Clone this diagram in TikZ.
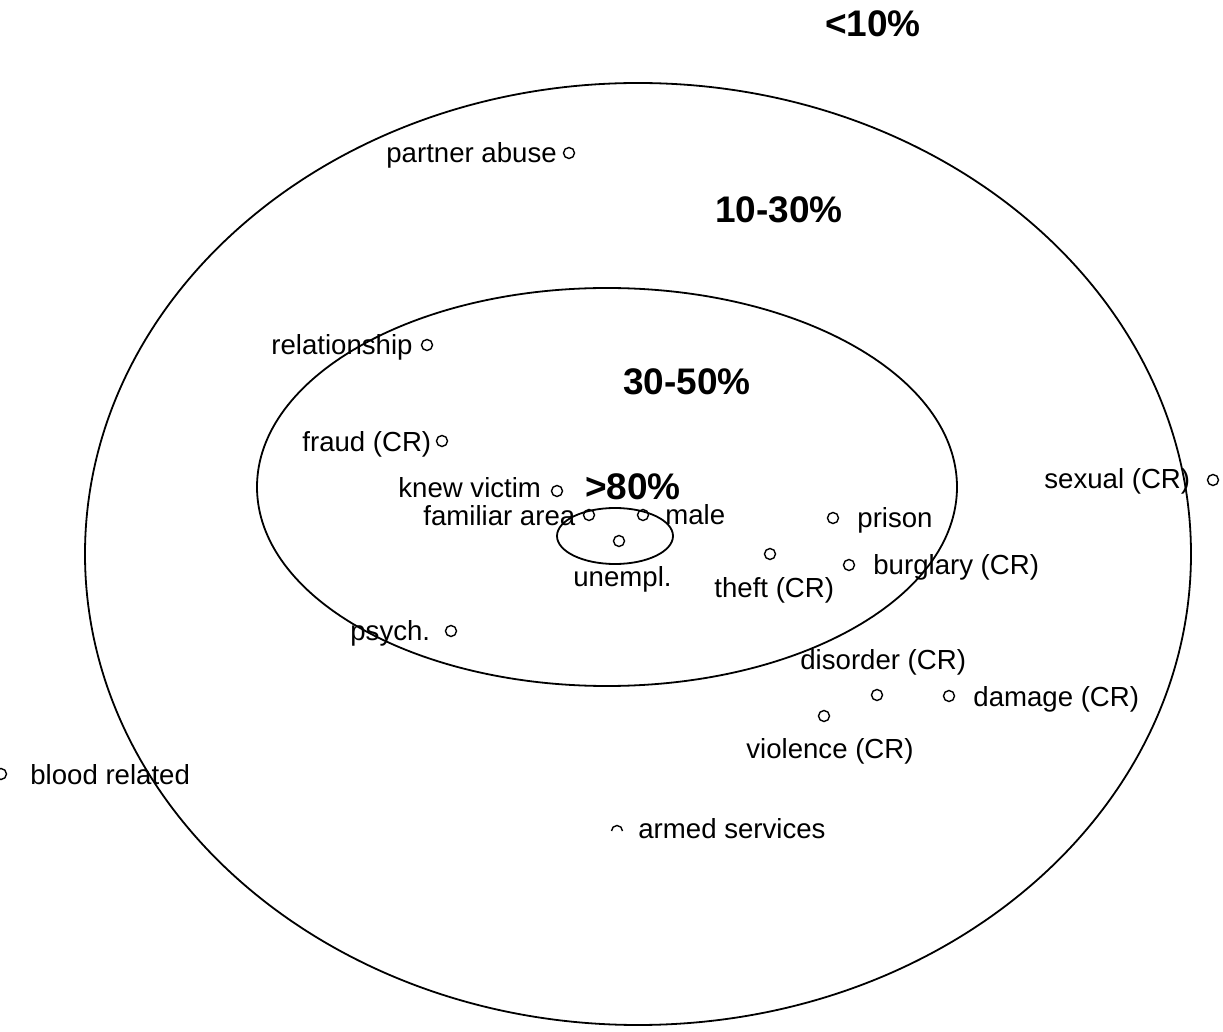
\documentclass[tikz,border=0pt]{standalone}
\usepackage{fontspec}
\setmainfont{Liberation Sans}
\begin{document}
\begin{tikzpicture}[x=0.5pt,y=-0.5pt,
  ring/.style={line width=0.9pt},
  pt/.style={circle,draw,line width=0.7pt,minimum size=5.5pt,inner sep=0pt},
  lab/.style={anchor=base west,inner sep=0pt,font=\fontsize{13.8}{16}\selectfont},
  band/.style={anchor=base,inner sep=0pt,font=\fontsize{18.5}{22}\selectfont\bfseries}]
\useasboundingbox (0,0) rectangle (1223,1032);
\clip (0,0) rectangle (1223,1032);

% concentric bands
\draw[ring] (638,554) ellipse [x radius=553, y radius=471];
\draw[ring] (607,487) ellipse [x radius=350, y radius=199];
\draw[ring] (615,536) ellipse [x radius=58, y radius=28];

% band labels
\node[band] (b10)  at (873,37)  {<10\%};
\node[band] (b30)  at (779,223) {10-30\%};
\node[band] (b50)  at (687,395) {30-50\%};
\node[band] (b80)  at (633,500) {>80\%};

% item markers
\node[pt] (pabuse) at (569,153) {};
\node[pt] (rel)    at (427,345) {};
\node[pt] (fraud)  at (442,441) {};
\node[pt] (knew)   at (557,491) {};
\node[pt] (fam)    at (589,515) {};
\node[pt] (male)   at (643,515) {};
\node[pt] (unemp)  at (619,541) {};
\node[pt] (psych)  at (451,631) {};
\node[pt] (prison) at (833,518) {};
\node[pt] (theft)  at (770,554) {};
\node[pt] (burg)   at (849,565) {};
\node[pt] (disord) at (877,695) {};
\node[pt] (damage) at (949,696) {};
\node[pt] (viol)   at (824,716) {};
\node[pt] (sexual) at (1213,480) {};
\node[pt] (blood)  at (1,774) {};
\coordinate (armed) at (617,831);
\draw[line width=0.7pt] (armed) ++(-5.5,0) arc[start angle=180, end angle=360, radius=5.5];

% item labels
\node[lab] (tpabuse) at (386,163) {partner abuse};
\node[lab] (trel)    at (271,355) {relationship};
\node[lab] (tfraud)  at (302,452) {fraud (CR)};
\node[lab] (tknew)   at (398,498) {knew victim};
\node[lab] (tfam)    at (423,526) {familiar area};
\node[lab] (tmale)   at (665,525) {male};
\node[lab] (tunemp)  at (573,587) {unempl.};
\node[lab] (tpsych)  at (350,641) {psych.};
\node[lab] (tprison) at (857,528) {prison};
\node[lab] (ttheft)  at (714,598) {theft (CR)};
\node[lab] (tburg)   at (873,575) {burglary (CR)};
\node[lab] (tdisord) at (800,669) {disorder (CR)};
\node[lab] (tdamage) at (973,706) {damage (CR)};
\node[lab] (tviol)   at (746,758) {violence (CR)};
\node[lab] (tsexual) at (1044,489) {sexual (CR)};
\node[lab] (tblood)  at (30,784) {blood related};
\node[lab] (tarmed)  at (638,838) {armed services};
\end{tikzpicture}
\end{document}
